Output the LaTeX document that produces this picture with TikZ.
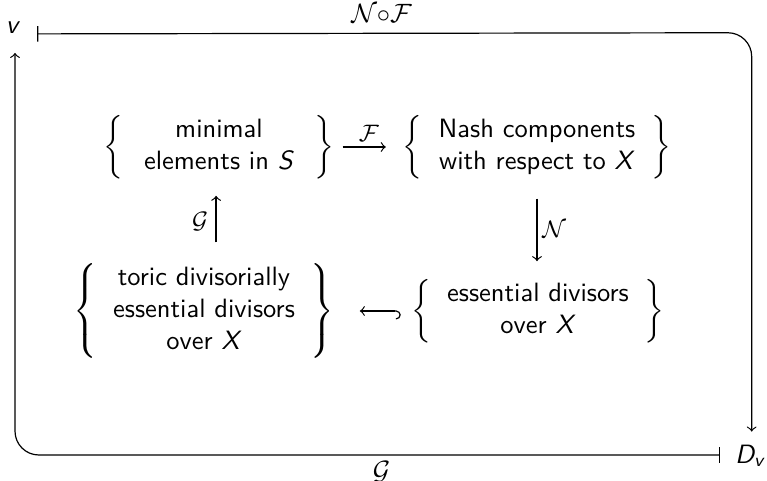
\documentclass[tikz,border=0pt]{standalone}
\usepackage{amsmath}
\usetikzlibrary{arrows,calc}
\begin{document}
\begin{tikzpicture}[x=0.37736pt,y=-0.37736pt, font=\sffamily, line width=0.45pt,
  every node/.style={inner sep=0pt, outer sep=0pt},
  setnode/.style={},
  lbl/.style={font=\normalsize},
  ilbl/.style={font=\small}]
\useasboundingbox (0,0) rectangle (767,480);
% corner nodes
\node (v) at (13,28) {\textit{v}};
\node[anchor=base west] (Dv) at (735,463) {$\textit{D}_{\textit{v}}$};
% set nodes
\node[setnode] (A) at (219,147) {$\left\{\kern1.9pt\begin{tabular}{c}minimal\\ elements in \textit{S}\end{tabular}\kern1.9pt\right\}$};
\node[setnode] (B) at (537,147) {$\left\{\begin{tabular}{c}Nash components\\ with respect to \textit{X}\end{tabular}\right\}$};
\node[setnode] (C) at (204,311) {$\left\{\begin{tabular}{c}toric divisorially\\ essential divisors\\ over \textit{X}\end{tabular}\right\}$};
\node[setnode] (D) at (538,311) {$\left\{\begin{tabular}{c}essential divisors\\ over \textit{X}\end{tabular}\right\}$};
% corners
\coordinate (cTR) at (751.7,32.7);
\coordinate (cBL) at (15,455);
% outer arrows
\draw[|->, rounded corners=9] ($(v.base east)+(17,0)$) -- node[pos=0.482, above=4pt, lbl] {$\mathcal{N}{\circ}\mathcal{F}$} (cTR) -- ($(Dv.north -| cTR)+(0,-13)$);
\draw[|->, rounded corners=9] ($(Dv.base west)+(-15,-8)$) -- node[pos=0.48, below=2.5pt, lbl] {$\mathcal{G}$} (cBL) -- ($(v.south -| cBL)+(0,19)$);
% inner arrows
\draw[->, shorten <=3pt, shorten >=6.4pt] (A.east) -- node[above=2pt, ilbl] {$\mathcal{F}$} (B.west);
\draw[->, shorten <=7.5pt, shorten >=6.8pt] (B.south) -- node[right=2pt, ilbl] {$\mathcal{N}$} (B.south |- D.north);
\draw[right hook->, shorten <=4pt, shorten >=9.6pt] (D.west) -- (C.east);
\draw[->, shorten <=7.9pt, shorten >=6.4pt] ([xshift=-1.1pt]C.north -| A.south) -- node[left=3pt, ilbl] {$\mathcal{G}$} ([xshift=-1.1pt]A.south);
\end{tikzpicture}
\end{document}
